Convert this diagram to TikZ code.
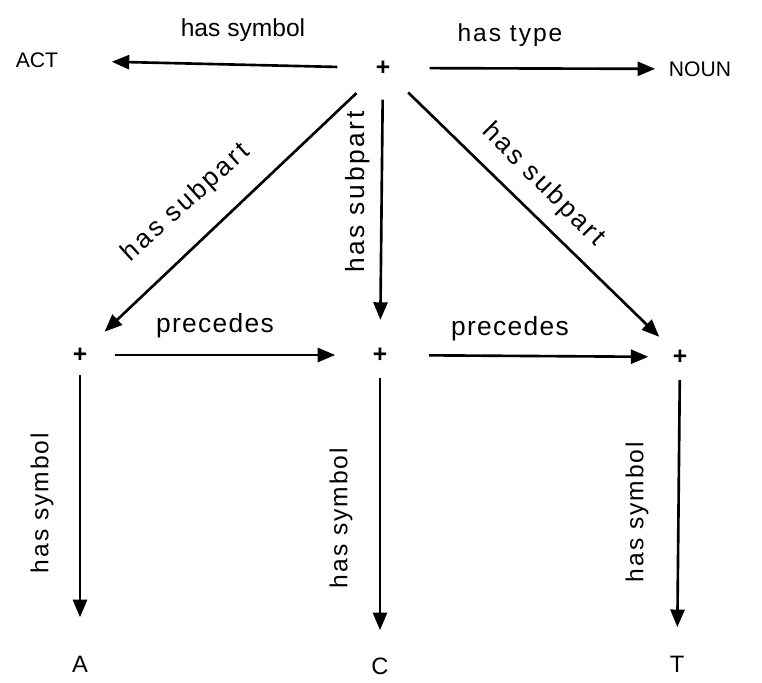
\documentclass[tikz,border=0pt]{standalone}
\usepackage{fontspec}
\setmainfont{Liberation Sans}
\usetikzlibrary{arrows.meta}

\newcommand\lblfont[2]{\fontsize{#1}{#1}\selectfont\addfontfeature{LetterSpace=#2}}

\tikzset{
  lbl/.style={font=\lblfont{14}{0}},
  sublbl/.style={font=\lblfont{15}{10}},
  symlbl/.style={font=\lblfont{14}{8}},
  word/.style={font=\fontsize{12}{14}\selectfont},
  letter/.style={font=\fontsize{13.5}{15}\selectfont},
  pt/.style={inner sep=0pt,font=\fontsize{14}{15}\selectfont\bfseries},
  rel/.style={->,line width=1.5pt},
}

\begin{document}
\begin{tikzpicture}[x=0.02cm,y=-0.02cm,>={Triangle[length=10pt,width=8pt]}]
\useasboundingbox (0,0) rectangle (762,683);
% nodes
\node[word] (act) at (37,60) {ACT};
\node[pt] (top) at (383,68) {+};
\node[word] (noun) at (700,69) {NOUN};
\node[pt] (p1) at (80,355) {+};
\node[pt] (p2) at (380,355) {+};
\node[pt] (p3) at (680,357) {+};
\node[letter] (a) at (80,664) {A};
\node[letter] (c) at (380,666) {C};
\node[letter] (t) at (677,664) {T};
% connectors
\draw[rel,shorten <=26pt,shorten >=42.5pt] (top.center) -- (act.center);
\draw[rel,shorten <=26.6pt,shorten >=25.5pt] (top.center) -- (noun.center);
\draw[rel,shorten <=20.8pt,shorten >=19.3pt] (top.center) -- (p1.center);
\draw[rel,shorten <=18pt,shorten >=20pt] (top.center) -- (p2.center);
\draw[rel,shorten <=20pt,shorten >=16.5pt] (top.center) -- (p3.center);
\draw[rel,shorten <=20pt,shorten >=25.5pt] (p1.center) -- (p2.center);
\draw[rel,shorten <=28pt,shorten >=18pt] (p2.center) -- (p3.center);
\draw[rel,shorten <=11.3pt,shorten >=26.6pt] (p1.center) -- (a.center);
\draw[rel,shorten <=13pt,shorten >=20.4pt] (p2.center) -- (c.center);
\draw[rel,shorten <=13pt,shorten >=21pt] (p3.center) -- (t.center);
% labels
\node[lbl] at (243,30) {has symbol};
\node[font=\lblfont{14}{8}] at (510,35) {has type};
\node[sublbl,rotate=42] at (186,203) {has subpart};
\node[sublbl,rotate=90] at (358,192) {has subpart};
\node[sublbl,rotate=-45] at (543,185) {has subpart};
\node[font=\lblfont{15}{5}] at (215,326) {precedes};
\node[font=\lblfont{15}{5}] at (510,329) {precedes};
\node[symlbl,rotate=90] at (42,503) {has symbol};
\node[symlbl,rotate=90] at (341,518) {has symbol};
\node[symlbl,rotate=90] at (637,512) {has symbol};
\end{tikzpicture}
\end{document}
